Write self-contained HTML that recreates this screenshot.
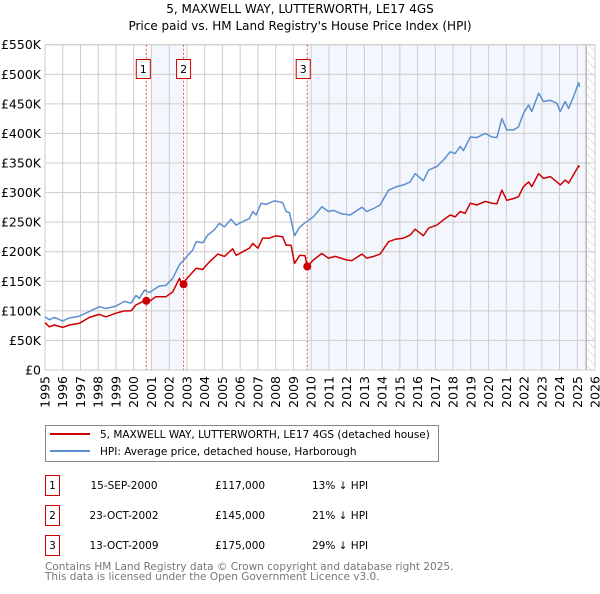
<!DOCTYPE html>
<html><head><meta charset="utf-8"><style>
body{margin:0;background:#fff;width:600px;height:590px;overflow:hidden;font-family:"DejaVu Sans","Liberation Sans",sans-serif}
svg text{font-family:"DejaVu Sans","Liberation Sans",sans-serif}
</style></head><body>
<svg id="chart" width="600" height="590" xmlns="http://www.w3.org/2000/svg">
<defs><pattern id="hatch" width="6" height="6" patternUnits="userSpaceOnUse" patternTransform="rotate(-45)"><line x1="0" y1="0" x2="0" y2="6" stroke="#ccc" stroke-width="1"/></pattern></defs>
<text x="300" y="13" text-anchor="middle" font-size="12">5, MAXWELL WAY, LUTTERWORTH, LE17 4GS</text>
<text x="300" y="30" text-anchor="middle" font-size="12">Price paid vs. HM Land Registry's House Price Index (HPI)</text>
<g id="plot"></g>
<g>
<rect x="45.5" y="425.5" width="393" height="36" fill="#fff" stroke="#888"/>
<line x1="50" y1="434" x2="90" y2="434" stroke="#cc0000" stroke-width="2"/>
<text x="100" y="438" font-size="10.5">5, MAXWELL WAY, LUTTERWORTH, LE17 4GS (detached house)</text>
<line x1="50" y1="451" x2="90" y2="451" stroke="#5b8fd0" stroke-width="2"/>
<text x="100" y="455" font-size="10.5">HPI: Average price, detached house, Harborough</text>
</g>
<g id="table" font-size="10.5"></g>
<text x="45" y="570" font-size="10.5" fill="#777">Contains HM Land Registry data © Crown copyright and database right 2025.</text>
<text x="45" y="580" font-size="10.5" fill="#777">This data is licensed under the Open Government Licence v3.0.</text>
</svg>
<script>
const hpiYears=[1995.00,1995.24,1995.53,1996.00,1996.37,1996.94,1997.50,1998.06,1998.44,1999.00,1999.47,1999.85,2000.13,2000.32,2000.60,2000.88,2001.45,2001.82,2002.20,2002.58,2002.80,2003.00,2003.33,2003.52,2003.89,2004.17,2004.55,2004.83,2005.11,2005.49,2005.77,2006.15,2006.52,2006.71,2006.90,2007.18,2007.46,2007.93,2008.40,2008.59,2008.78,2009.06,2009.34,2009.66,2010.13,2010.60,2010.98,2011.26,2011.73,2012.20,2012.86,2013.14,2013.52,2013.89,2014.36,2014.83,2015.21,2015.58,2015.86,2016.33,2016.62,2017.09,2017.46,2017.84,2018.12,2018.40,2018.59,2018.97,2019.34,2019.81,2020.19,2020.47,2020.75,2021.03,2021.41,2021.69,2021.97,2022.26,2022.44,2022.82,2023.10,2023.48,2023.85,2024.04,2024.32,2024.51,2024.79,2025.08,2025.13];
const hpiValues=[90,85,89,83,88,91,99,107,104,108,116,113,126,121,135,131,142,143,155,178,185,192,203,217,215,228,237,248,242,255,245,251,256,268,262,282,280,286,283,268,266,227,241,249,259,276,268,270,264,262,275,268,273,279,304,310,313,318,332,320,338,344,355,369,366,378,371,394,393,400,394,393,425,406,406,411,434,448,437,468,454,456,451,437,454,442,462,486,479];
const ppYears=[1995.00,1995.24,1995.53,1996.00,1996.37,1996.94,1997.50,1998.06,1998.44,1999.00,1999.47,1999.85,2000.13,2000.60,2000.88,2001.25,2001.82,2002.20,2002.58,2002.73,2002.95,2003.52,2003.89,2004.27,2004.74,2005.11,2005.58,2005.77,2006.15,2006.52,2006.71,2007.00,2007.27,2007.65,2008.03,2008.40,2008.59,2008.87,2009.06,2009.34,2009.38,2009.66,2009.78,2010.13,2010.60,2010.98,2011.35,2012.01,2012.29,2012.86,2013.14,2013.52,2013.89,2014.36,2014.74,2015.21,2015.58,2015.86,2016.33,2016.62,2017.09,2017.46,2017.84,2018.12,2018.40,2018.68,2018.97,2019.34,2019.81,2020.19,2020.47,2020.75,2021.03,2021.41,2021.69,2021.97,2022.26,2022.44,2022.82,2023.10,2023.48,2023.85,2024.04,2024.32,2024.51,2024.79,2025.08,2025.13];
const ppValues=[80,73,76,72,76,79,89,94,90,96,100,100,110,117,116,124,124,132,155,144,153,172,170,183,196,192,205,194,200,206,214,206,223,223,227,225,211,211,180,193,194,193,175,186,197,189,192,186,185,196,189,192,196,217,221,223,228,238,227,240,245,254,262,259,268,265,282,279,285,282,281,304,287,290,293,310,318,310,332,324,327,318,313,321,316,330,345,343];
const saleYears=[2000.71,2002.81,2009.78];
const saleValues=[117,145,175];
const saleLabels=["1","2","3"];
const saleDates=["15-SEP-2000","23-OCT-2002","13-OCT-2009"];
const salePrices=["£117,000","£145,000","£175,000"];
const saleDiffs=["13% ↓ HPI","21% ↓ HPI","29% ↓ HPI"];
const yTicks=[0,50,100,150,200,250,300,350,400,450,500,550];
const yTickLabels=["£0","£50K","£100K","£150K","£200K","£250K","£300K","£350K","£400K","£450K","£500K","£550K"];
const xTicks=[1995,1996,1997,1998,1999,2000,2001,2002,2003,2004,2005,2006,2007,2008,2009,2010,2011,2012,2013,2014,2015,2016,2017,2018,2019,2020,2021,2022,2023,2024,2025,2026];

const NS="http://www.w3.org/2000/svg";
const L=45,R=595,T=44.7,B=370;
const X=y=>L+(y-1995)*(R-L)/31;
const Y=v=>B-v*(B-T)/550;
const plot=document.getElementById('plot');
function mk(tag,attrs,parent){const e=document.createElementNS(NS,tag);for(const k in attrs)e.setAttribute(k,attrs[k]);(parent||plot).appendChild(e);return e;}
let e;
e=mk('rect',{x:X(2001),y:T,width:X(2002.81)-X(2001),height:B-T,fill:'#eef3fc',opacity:0.7});


e=mk('rect',{x:X(2009.78),y:T,width:X(2025.5)-X(2009.78),height:B-T,fill:'#eef3fc',opacity:0.7});


e=mk('rect',{x:X(2025.5),y:T,width:R-X(2025.5),height:B-T,fill:'url(#hatch)'});


yTicks.forEach((v,i)=>{
  e=mk('line',{x1:L,x2:R,y1:Y(v),y2:Y(v),stroke:'#ccc','stroke-width':1});
  
  
  e=mk('text',{x:L-4,y:Y(v)+4.5,'text-anchor':'end','font-size':12.5});
  e.textContent=yTickLabels[i];
  
  
});
xTicks.forEach(v=>{
  e=mk('line',{x1:X(v),x2:X(v),y1:T,y2:B,stroke:'#ccc','stroke-width':1});
  
  
  e=mk('text',{x:0,y:0,'text-anchor':'end','font-size':12.5,transform:`translate(${X(v)+4.5},${B+6}) rotate(-90)`});
  e.textContent=v;
  
  
});
e=mk('line',{x1:X(2025.5),x2:X(2025.5),y1:T,y2:B,stroke:'#999','stroke-width':1});


e=mk('rect',{x:L,y:T,width:R-L,height:B-T,fill:'none',stroke:'#ccc'});


saleYears.forEach((yr,i)=>{
  e=mk('line',{x1:X(yr),x2:X(yr),y1:T,y2:B,stroke:'#e05050','stroke-width':1,'stroke-dasharray':'2,2'});
  
  
  const g=mk('g',{});
  
  
  const cx=i===2?X(yr)-4:X(yr)-1-(i===0?2:-1);
  mk('rect',{x:cx-7,y:59.5,width:14,height:19,fill:'#fff',stroke:'#cc0000'},g);
  const t=mk('text',{x:cx,y:73,'text-anchor':'middle','font-size':11},g);
  t.textContent=saleLabels[i];
});
function line(xs,vs,color,name){
  e=mk('path',{d:xs.map((x,i)=>(i?'L':'M')+X(x).toFixed(1)+','+Y(vs[i]).toFixed(1)).join(''),fill:'none',stroke:color,'stroke-width':1.5,'stroke-linejoin':'round'});
  
  
}
line(hpiYears,hpiValues,'#5b8fd0','hpi-line');
line(ppYears,ppValues,'#cc0000','price-paid-line');
saleYears.forEach((yr,i)=>{
  e=mk('circle',{cx:X(yr),cy:Y(saleValues[i]),r:4,fill:'#cc0000'});
  
  
});
const tb=document.getElementById('table');
saleLabels.forEach((lab,i)=>{
  const y0=475+i*30;
  const g=mk('g',{},tb);
  
  
  mk('rect',{x:45.5,y:y0+0.5,width:14,height:20,fill:'#fff',stroke:'#cc0000'},g);
  let t=mk('text',{x:52.5,y:y0+14,'text-anchor':'middle'},g);t.textContent=lab;
  t=mk('text',{x:124,y:y0+14,'text-anchor':'middle'},g);t.textContent=saleDates[i];
  t=mk('text',{x:215,y:y0+14},g);t.textContent=salePrices[i];
  t=mk('text',{x:312,y:y0+14},g);t.textContent=saleDiffs[i];
});
</script>
</body></html>
